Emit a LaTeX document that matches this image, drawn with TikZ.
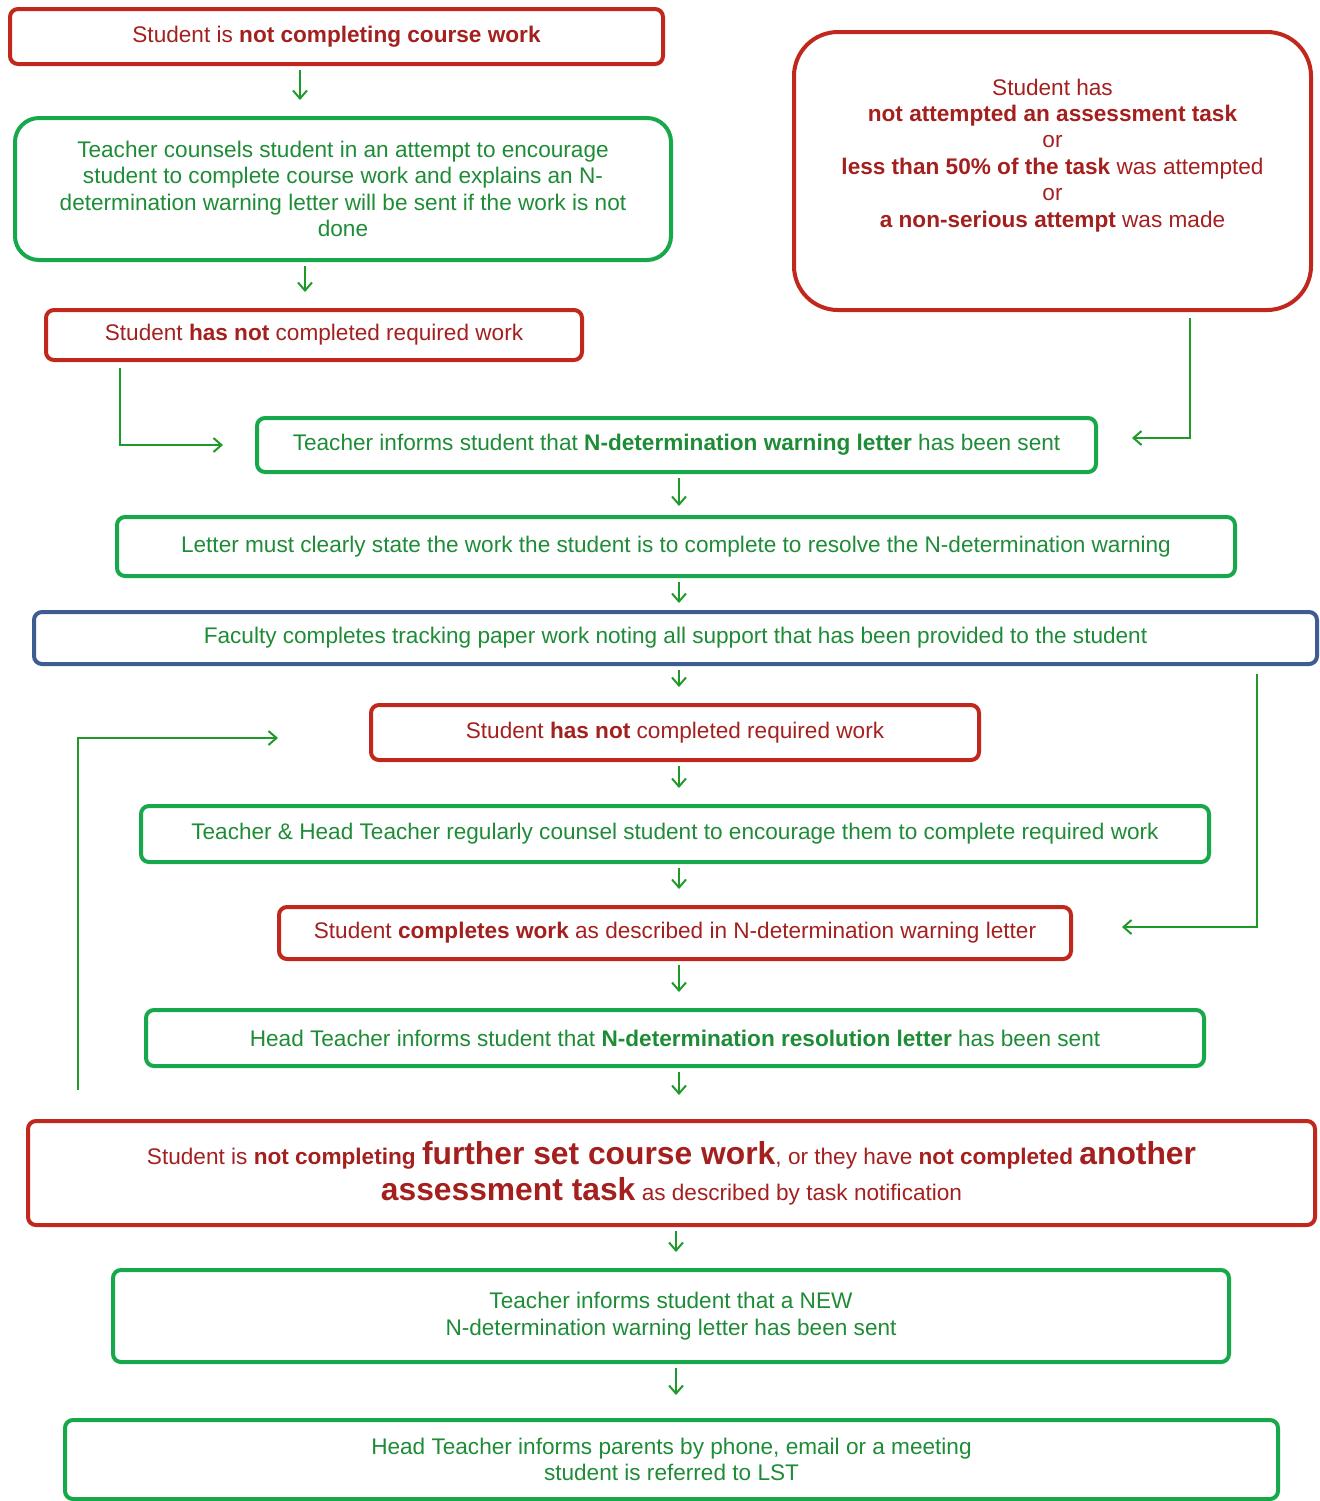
\documentclass[tikz,border=0pt]{standalone}
\usepackage{fontspec}
\setmainfont{Liberation Sans}
\usetikzlibrary{arrows.meta}
\definecolor{boxred}{HTML}{C0281E}
\definecolor{txtred}{HTML}{A3201F}
\definecolor{boxgreen}{HTML}{16A84B}
\definecolor{txtgreen}{HTML}{1E8C36}
\definecolor{boxblue}{HTML}{3D5C92}
\definecolor{arrgreen}{HTML}{1F9A2A}
\newcommand{\bigword}[1]{{\fontsize{15.9}{18}\selectfont\textbf{#1}}}

\begin{document}
\begin{tikzpicture}[x=0.5pt,y=-0.5pt,
  box/.style={draw,line width=2pt,rounded corners=4pt,align=center,inner sep=0pt,font=\fontsize{11.3}{13.2}\selectfont},
  redbox/.style={box,draw=boxred,text=txtred},
  greenbox/.style={box,draw=boxgreen,text=txtgreen},
  bluebox/.style={box,draw=boxblue,text=txtgreen},
  arr/.style={draw=arrgreen,line width=1pt,-{Straight Barb[length=4pt,width=7pt]},shorten <=2pt,shorten >=8pt}]
\useasboundingbox (0,0) rectangle (1319,1501);
\node[redbox,minimum width=326.5pt,minimum height=27.5pt] (notdoing) at (336.5,36.5) {Student is \textbf{not completing course work}};
\node[greenbox,rounded corners=12pt,minimum width=328pt,minimum height=71pt] (counsel) at (343,189) {Teacher counsels student in an attempt to encourage\\student to complete course work and explains an N-\\determination warning letter will be sent if the work is not\\done};
\node[redbox,minimum width=268pt,minimum height=25pt] (notdone) at (314,335) {Student \textbf{has not} completed required work};
\node[redbox,rounded corners=22pt,minimum width=258.5pt,minimum height=139pt,text depth=18pt] (task) at (1052.5,171) {Student has\\\textbf{not attempted an assessment task}\\or\\\textbf{less than 50\% of the task} was attempted\\or\\\textbf{a non-serious attempt} was made};
\node[greenbox,minimum width=419.5pt,minimum height=27pt] (warn) at (676.5,445) {Teacher informs student that \textbf{N-determination warning letter} has been sent};
\node[greenbox,minimum width=559pt,minimum height=29.5pt] (letter) at (676,546.5) {Letter must clearly state the work the student is to complete to resolve the N-determination warning};
\node[bluebox,minimum width=641.5pt,minimum height=26pt] (faculty) at (675.5,638) {Faculty completes tracking paper work noting all support that has been provided to the student};
\node[redbox,minimum width=304pt,minimum height=27.5pt] (stillnot) at (675,732.5) {Student \textbf{has not} completed required work};
\node[greenbox,minimum width=534pt,minimum height=28pt] (regular) at (675,834) {Teacher \& Head Teacher regularly counsel student to encourage them to complete required work};
\node[redbox,minimum width=396pt,minimum height=26pt] (completes) at (675,933) {Student \textbf{completes work} as described in N-determination warning letter};
\node[greenbox,minimum width=529pt,minimum height=28pt] (resolve) at (675,1038) {Head Teacher informs student that \textbf{N-determination resolution letter} has been sent};
\node[redbox,minimum width=643.5pt,minimum height=52pt,font=\fontsize{11.3}{18}\selectfont] (further) at (671.5,1173) {Student is \textbf{not completing} \bigword{further set course work}, or they have \textbf{not completed} \bigword{another}\\\bigword{assessment task} as described by task notification};
\node[greenbox,minimum width=558pt,minimum height=46pt] (newwarn) at (671,1316) {Teacher informs student that a NEW\\N-determination warning letter has been sent};
\node[greenbox,minimum width=606.5pt,minimum height=39.5pt] (parents) at (671.5,1459.5) {Head Teacher informs parents by phone, email or a meeting\\student is referred to LST};
\draw[arr] (notdoing.south -| 300,0) -- (counsel.north -| 300,0);
\draw[arr] (counsel.south -| 305,0) -- (notdone.north -| 305,0);
\draw[arr,shorten <=3pt,shorten >=16pt] (notdone.south -| 120,0) |- (warn.west);
\draw[arr,shorten <=3pt,shorten >=17pt] (task.south -| 1190,0) |- ([yshift=3.5pt]warn.east);
\draw[arr,shorten >=4.5pt] (warn.south -| 679,0) -- (letter.north -| 679,0);
\draw[arr,shorten >=3.5pt] (letter.south -| 679,0) -- (faculty.north -| 679,0);
\foreach \a/\b in {faculty/stillnot,stillnot/regular,regular/completes,completes/resolve}
  \draw[arr] (\a.south -| 679,0) -- (\b.north -| 679,0);
\draw[arr,shorten >=12pt] (resolve.south -| 679,0) -- (further.north -| 679,0);
\draw[arr,shorten <=4pt,shorten >=24.5pt] (faculty.south -| 1257,0) |- ([yshift=3pt]completes.east);
\draw[arr,shorten <=14.5pt,shorten >=45.5pt] (further.north -| 78,0) |- ([yshift=-2.75pt]stillnot.west);
\draw[arr] (further.south -| 676,0) -- (newwarn.north -| 676,0);
\draw[arr,shorten >=11.5pt] (newwarn.south -| 676,0) -- (parents.north -| 676,0);
\end{tikzpicture}
\end{document}
